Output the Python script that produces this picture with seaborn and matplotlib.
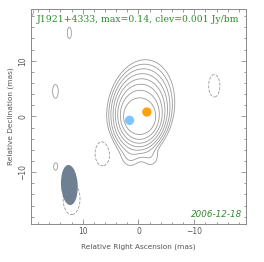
import numpy as np
import matplotlib
matplotlib.use("Agg")
import matplotlib.pyplot as plt
from matplotlib.patches import Ellipse
from matplotlib.ticker import MultipleLocator
import seaborn as sns
import pandas as pd

# --- image info ---
source = "J1921+4333"
epoch = "2006-12-18"
peak = 0.14
clev = 0.001
level_steps = [-1, 1, 2, 4, 8, 16, 32, 64, 128]

# main emission: innermost and outermost ellipse
# (centre x, y in mas; semi minor, semi major in mas; tilt of major axis from north, deg)
inner_xy = (-0.2, 0.0)
inner_size = (2.75, 3.05)
inner_tilt = 0
outer_xy = (-0.4, 1.3)
outer_size = (6.0, 8.95)
outer_tilt = 10
growth = 0.8

# small patches added on top: x, y (mas), amplitude (Jy/bm), sigma x, sigma y (mas)
gau_x = [1.5, -2.2, 12.4, 14.9, -13.6, 14.8, 6.4, 12.0, 19.7]
gau_y = [-7.3, -7.3, 15.0, 4.5, 5.5, -9.1, -6.6, -14.8, 19.0]
gau_amp = [0.0016, 0.0016, 0.0013, 0.0013, -0.0013, 0.0013, -0.0016, -0.0013, 0.0015]
gau_sx = [1.1, 1.1, 0.5, 0.7, 1.4, 0.8, 1.4, 2.1, 1.0]
gau_sy = [1.3, 1.3, 1.4, 1.7, 2.8, 1.5, 2.3, 3.9, 1.3]

# model components
comp_name = ["C1", "C2"]
comp_x = [1.6, -1.5]
comp_y = [-0.7, 0.8]
comp_color = ["#80c4ff", "#ffa010"]

# restoring beam
beam_xy = (12.4, -12.3)
beam_w, beam_h, beam_pa = 3.0, 7.2, -3

# --- build the map ---
gx = np.linspace(-20, 20, 401)
X, Y = np.meshgrid(gx, gx)

# number of halvings below the peak: find the nested ellipse through each pixel
n_out = np.log2(peak / clev)
lo = np.zeros_like(X)
hi = np.full_like(X, 16.0)
for _ in range(40):
    mid = 0.5 * (lo + hi)
    s = (mid / n_out) ** growth
    cx = inner_xy[0] + (outer_xy[0] - inner_xy[0]) * s
    cy = inner_xy[1] + (outer_xy[1] - inner_xy[1]) * s
    a = inner_size[0] + (outer_size[0] - inner_size[0]) * s
    b = inner_size[1] + (outer_size[1] - inner_size[1]) * s
    t = np.radians(inner_tilt + (outer_tilt - inner_tilt) * s)
    dx, dy = X - cx, Y - cy
    u = dx * np.cos(t) + dy * np.sin(t)
    v = -dx * np.sin(t) + dy * np.cos(t)
    outside = (u / a) ** 2 + (v / b) ** 2 > 1
    lo = np.where(outside, mid, lo)
    hi = np.where(outside, hi, mid)
img = peak * 2.0 ** (-0.5 * (lo + hi))

for x0, y0, amp, sx, sy in zip(gau_x, gau_y, gau_amp, gau_sx, gau_sy):
    img += amp * np.exp(-0.5 * (((X - x0) / sx) ** 2 + ((Y - y0) / sy) ** 2))

levels = [clev * s for s in level_steps]

# --- plot ---
sns.set_style("ticks")
plt.rcParams["font.family"] = ["DejaVu Sans"]

fig = plt.figure(figsize=(2.64, 2.62), dpi=100)
ax = fig.add_axes([0.117, 0.145, 0.815, 0.821])

ax.contour(X, Y, img, levels=levels, colors="#9a9a9a", linewidths=0.6,
           linestyles=["--"] + ["-"] * (len(levels) - 1))

ax.add_patch(Ellipse(beam_xy, beam_w, beam_h, angle=beam_pa,
                     facecolor="#6e8092", edgecolor="none", zorder=3))

comps = pd.DataFrame({"x": comp_x, "y": comp_y, "name": comp_name})
sns.scatterplot(data=comps, x="x", y="y", hue="name", palette=comp_color,
                s=45, edgecolor="none", legend=False, ax=ax, zorder=4)

ax.set_xlim(19.3, -19.3)
ax.set_ylim(-19.3, 19.3)

ax.xaxis.set_major_locator(MultipleLocator(10))
ax.yaxis.set_major_locator(MultipleLocator(10))
ax.xaxis.set_minor_locator(MultipleLocator(2))
ax.yaxis.set_minor_locator(MultipleLocator(2))
ax.tick_params(which="both", direction="in", top=True, right=True,
               colors="#8a8a8a", labelcolor="#555555", labelsize=5.5, width=0.6)
ax.tick_params(which="major", length=3.5, pad=2.5)
ax.tick_params(which="minor", length=1.8)
for lbl in ax.get_yticklabels():
    lbl.set_rotation(90)
    lbl.set_va("center")
for sp in ax.spines.values():
    sp.set_color("#8a8a8a")
    sp.set_linewidth(0.7)

ax.set_xlabel("Relative Right Ascension (mas)", fontsize=5.3, color="#555555", labelpad=5)
ax.set_ylabel("Relative Declination (mas)", fontsize=5.3, color="#555555", labelpad=3)

ax.text(0.028, 0.949, f"{source}, max={peak:g}, clev={clev:g} Jy/bm",
        transform=ax.transAxes, ha="left", va="center", fontsize=6.7,
        family="DejaVu Serif", color="#2e8b2e")
ax.text(0.981, 0.042, epoch, transform=ax.transAxes, ha="right", va="center",
        fontsize=6.3, style="italic", color="#2e8b2e")

fig.savefig("out.png", dpi=100, facecolor="white")
